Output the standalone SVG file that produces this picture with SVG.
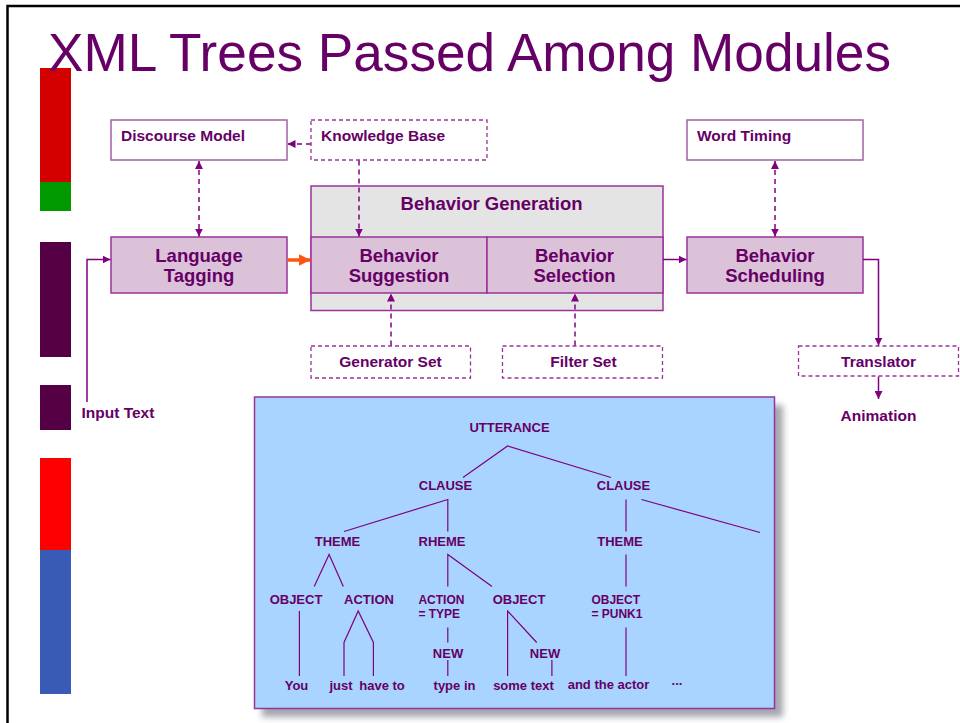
<svg xmlns="http://www.w3.org/2000/svg" width="960" height="723" viewBox="0 0 960 723">
<defs>
<style>
.t{font-family:"Liberation Sans",Arial,sans-serif;font-weight:bold;fill:#660066}
.lbl{font-size:15.5px}
.big{font-size:18.5px;text-anchor:middle}
.tr{font-size:13px;text-anchor:middle}
.trl{font-size:12px}
.box{fill:#ffffff;stroke:#a060a0;stroke-width:1.5}
.dbox{fill:#ffffff;stroke:#993399;stroke-width:1.3;stroke-dasharray:4 3}
.mod{fill:#dbc2d9;stroke:#993399;stroke-width:1.5}
.con{fill:none;stroke:#800080;stroke-width:1.5}
.dash{fill:none;stroke:#800080;stroke-width:1.5;stroke-dasharray:5 4}
.tl{fill:none;stroke:#800080;stroke-width:1.2}
</style>
<marker id="ah" viewBox="0 0 10 10" refX="10" refY="5" markerWidth="8" markerHeight="8" markerUnits="userSpaceOnUse" orient="auto-start-reverse"><path d="M0,0 L10,5 L0,10 z" fill="#800080"/></marker>
<marker id="aho" viewBox="0 0 10 10" refX="10" refY="5" markerWidth="12" markerHeight="12" markerUnits="userSpaceOnUse" orient="auto"><path d="M0,0 L10,5 L0,10 z" fill="#ff5511"/></marker>
<filter id="sh" x="-10%" y="-10%" width="130%" height="130%"><feGaussianBlur stdDeviation="3"/></filter>
</defs>
<rect width="960" height="723" fill="#ffffff"/>
<path d="M7.5,723 V6 H960" fill="none" stroke="#000" stroke-width="2.5"/>
<g id="sidebars">
<rect x="40" y="68" width="31" height="114" fill="#d40000"/>
<rect x="40" y="182" width="31" height="29" fill="#009900"/>
<rect x="40" y="242" width="31" height="115" fill="#550044"/>
<rect x="40" y="385" width="31" height="45" fill="#550044"/>
<rect x="40" y="458" width="31" height="92" fill="#ff0000"/>
<rect x="40" y="550" width="31" height="144" fill="#3a5bb5"/>
</g>
<text id="title" x="48" y="71" font-family="Liberation Sans,Arial,sans-serif" font-size="54" fill="#660066" textLength="843" lengthAdjust="spacingAndGlyphs">XML Trees Passed Among Modules</text>

<g id="discourse-model">
<rect class="box" x="111" y="120" width="176" height="40"/>
<text class="t lbl" x="121" y="141">Discourse Model</text>
</g>
<g id="knowledge-base">
<rect class="dbox" x="311" y="120" width="176" height="40"/>
<text class="t lbl" x="321" y="141">Knowledge Base</text>
</g>
<g id="word-timing">
<rect class="box" x="687" y="120" width="176" height="40"/>
<text class="t lbl" x="697" y="141">Word Timing</text>
</g>
<g id="behavior-generation">
<rect x="311" y="186" width="352" height="124.5" fill="#e4e4e4" stroke="#993399" stroke-width="1.5"/>
<text class="t big" x="491.5" y="210">Behavior Generation</text>
</g>
<g id="language-tagging">
<rect class="mod" x="111" y="237" width="176" height="56"/>
<text class="t big" x="199" y="261.5">Language</text>
<text class="t big" x="199" y="281.5">Tagging</text>
</g>
<g id="behavior-suggestion">
<rect class="mod" x="311" y="237" width="176" height="56"/>
<text class="t big" x="399" y="261.5">Behavior</text>
<text class="t big" x="399" y="281.5">Suggestion</text>
</g>
<g id="behavior-selection">
<rect class="mod" x="487" y="237" width="176" height="56"/>
<text class="t big" x="574.5" y="261.5">Behavior</text>
<text class="t big" x="574.5" y="281.5">Selection</text>
</g>
<g id="behavior-scheduling">
<rect class="mod" x="687" y="237" width="176" height="56"/>
<text class="t big" x="775" y="261.5">Behavior</text>
<text class="t big" x="775" y="281.5">Scheduling</text>
</g>
<g id="generator-set">
<rect class="dbox" x="311" y="346" width="159.5" height="32"/>
<text class="t lbl" x="390.5" y="367" text-anchor="middle">Generator Set</text>
</g>
<g id="filter-set">
<rect class="dbox" x="502.5" y="346" width="160" height="32"/>
<text class="t lbl" x="583.5" y="367" text-anchor="middle">Filter Set</text>
</g>
<g id="translator">
<rect class="dbox" x="798.5" y="346" width="160" height="30"/>
<text class="t lbl" x="878.5" y="367" text-anchor="middle">Translator</text>
</g>
<g id="animation">
<text class="t lbl" x="878.5" y="421" text-anchor="middle">Animation</text>
</g>
<g id="input-text">
<text class="t lbl" x="81.5" y="418">Input Text</text>
</g>

<g id="connectors">
<line class="dash" x1="311" y1="144" x2="287.5" y2="144" marker-end="url(#ah)"/>
<line class="dash" x1="199" y1="161" x2="199" y2="236.5" marker-start="url(#ah)" marker-end="url(#ah)"/>
<line class="dash" x1="359" y1="160.5" x2="359" y2="236.5" marker-end="url(#ah)"/>
<line class="dash" x1="775" y1="161" x2="775" y2="236.5" marker-start="url(#ah)" marker-end="url(#ah)"/>
<polyline class="con" points="87,402 87,259.5 110.5,259.5" marker-end="url(#ah)"/>
<line x1="287.5" y1="260" x2="310.5" y2="260" stroke="#ff5511" stroke-width="3.5" marker-end="url(#aho)"/>
<line class="con" x1="663" y1="259.5" x2="686.5" y2="259.5" marker-end="url(#ah)"/>
<polyline class="con" points="863,259.5 878.5,259.5 878.5,345.5" marker-end="url(#ah)"/>
<line class="con" x1="878.5" y1="376.5" x2="878.5" y2="399" marker-end="url(#ah)"/>
<line class="dash" x1="391" y1="345.5" x2="391" y2="293.5" marker-end="url(#ah)"/>
<line class="dash" x1="575" y1="345.5" x2="575" y2="293.5" marker-end="url(#ah)"/>
</g>

<g id="xml-tree">
<rect x="262" y="405" width="521" height="312" fill="#6a6a7a" opacity="0.6" filter="url(#sh)"/>
<rect x="254.5" y="397" width="520" height="311.5" fill="#a8d4ff" stroke="#993399" stroke-width="1.5"/>
<g class="tree-lines">
<path class="tl" d="M463,477.5 L507.6,446 L611,477.5"/>
<path class="tl" d="M344,531.5 L447.8,499.5 L447.8,531.5"/>
<path class="tl" d="M626,499.5 L626,531.5 M641.5,499.5 L760,532.5"/>
<path class="tl" d="M314.2,586.5 L329.1,554.5 L343.3,586.5"/>
<path class="tl" d="M447.8,586.5 L447.8,554.5 L492,586.5"/>
<path class="tl" d="M626,554.5 L626,586.5"/>
<path class="tl" d="M299.4,611 L299.4,676"/>
<path class="tl" d="M344,676 L344,642.5 L358.2,611 L373.4,642.5 L373.4,676"/>
<path class="tl" d="M447.8,627.5 L447.8,642.5 M447.8,660 L447.8,676"/>
<path class="tl" d="M507.6,676 L507.6,611 L536.7,642.5 M551.9,660 L551.9,676"/>
<path class="tl" d="M626,627.5 L626,676"/>
</g>
<text class="t tr" x="509.5" y="431.5">UTTERANCE</text>
<text class="t tr" x="445.5" y="490">CLAUSE</text>
<text class="t tr" x="623.5" y="490">CLAUSE</text>
<text class="t tr" x="337.5" y="546">THEME</text>
<text class="t tr" x="442" y="546">RHEME</text>
<text class="t tr" x="620" y="546">THEME</text>
<text class="t tr" x="296" y="604">OBJECT</text>
<text class="t tr" x="369" y="604">ACTION</text>
<text class="t trl" x="418.4" y="604">ACTION</text>
<text class="t trl" x="418.4" y="617.5">= TYPE</text>
<text class="t tr" x="519" y="604">OBJECT</text>
<text class="t trl" x="591.4" y="604">OBJECT</text>
<text class="t trl" x="591.4" y="617.5">= PUNK1</text>
<text class="t tr" x="448" y="657.5">NEW</text>
<text class="t tr" x="545" y="657.5">NEW</text>
<text class="t tr" x="296.5" y="690">You</text>
<text class="t tr" x="341" y="690">just</text>
<text class="t tr" x="382" y="690">have to</text>
<text class="t tr" x="454.5" y="690">type in</text>
<text class="t tr" x="523.5" y="690">some text</text>
<text class="t tr" x="608.5" y="688.5">and the actor</text>
<text class="t tr" x="677" y="685">...</text>
</g>
</svg>
